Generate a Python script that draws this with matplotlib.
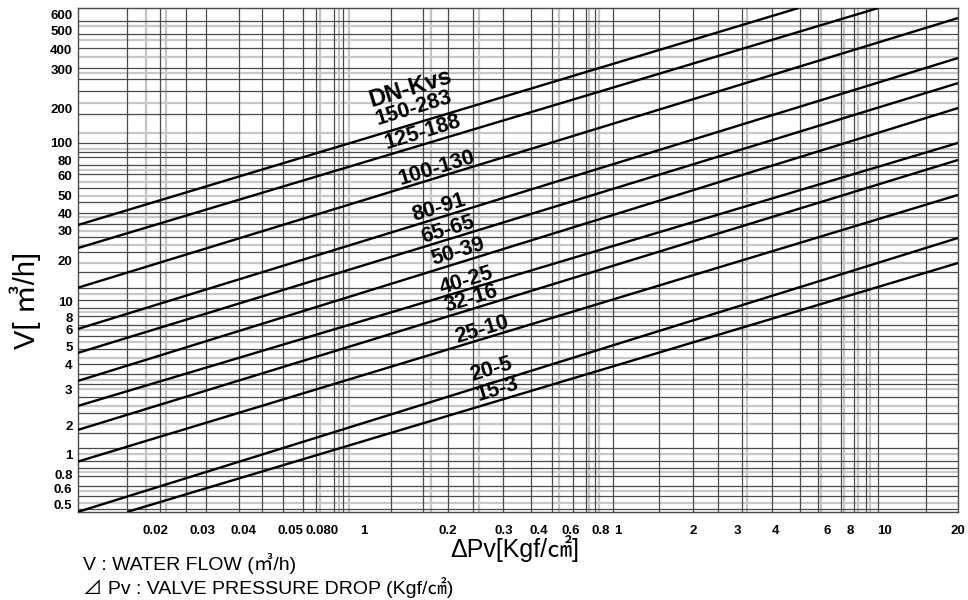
import numpy as np
import matplotlib
matplotlib.use("Agg")
import matplotlib.pyplot as plt

plt.rcParams['font.family'] = ['Liberation Sans', 'Noto Sans CJK KR', 'DejaVu Sans']

# ---- data ----
# valve lines: DN-Kvs label, start point and end point (dP, V)
line_names = ['150-283', '125-188', '100-130', '80-91', '65-65', '50-39',
              '40-25', '32-16', '25-10', '20-5', '15-3']
p_start = [0.0095, 0.0095, 0.0095, 0.0095, 0.0095, 0.0095,
           0.0095, 0.0095, 0.0095, 0.0095, 0.0146]
v_start = [29.5, 21.2, 12.0, 6.64, 4.71, 3.15, 2.20, 1.56, 0.99, 0.481, 0.481]
p_end = [5.0, 10.0, 20, 20, 20, 20, 20, 20, 20, 20, 20]
v_end = [664, 664, 575, 324, 226, 158, 95.8, 75, 45.4, 24.5, 17.1]

# where each label sits (dP, V)
label_p = [0.176, 0.19, 0.216, 0.22, 0.236, 0.258, 0.279, 0.291, 0.318, 0.346, 0.365]
label_v = [158, 111, 67, 37.7, 27.5, 20.0, 13.2, 10.2, 6.55, 3.69, 2.77]
head_p, head_v = 0.171, 211

# tick labels as printed, and where they sit on the chart
x_tick_at = [0.0186, 0.028, 0.040, 0.060, 0.0796, 0.1137, 0.236, 0.384, 0.521,
             0.688, 0.893, 1.04, 2.0, 2.94, 4.09, 6.43, 7.85, 10.6, 19.9]
x_tick_txt = ['0.02', '0.03', '0.04', '0.05', '0.080', '1', '0.2', '0.3', '0.4',
              '0.6', '0.8', '1', '2', '3', '4', '6', '8', '10', '20']
y_tick_at = [601, 478, 364, 273, 158, 95.8, 74, 59.7, 44.8, 34.6, 27.1, 17.6,
             9.79, 7.78, 6.55, 5.13, 3.96, 2.77, 1.65, 1.1, 0.818, 0.669, 0.532]
y_tick_txt = ['600', '500', '400', '300', '200', '100', '80', '60', '50', '40', '30',
              '20', '10', '8', '6', '5', '4', '3', '2', '1', '0.8', '0.6', '0.5']

# grid lines of the chart paper
v_grid = [0.0146, 0.0193, 0.0242, 0.0288, 0.0384, 0.0472, 0.0567, 0.0675, 0.075,
          0.0877, 0.0948, 0.144, 0.19, 0.238, 0.296, 0.381, 0.486, 0.588, 0.706,
          0.784, 0.855, 1.0, 1.49, 1.99, 2.49, 3.07, 3.98, 5.08, 5.94, 7.2, 8.13,
          9.02, 10.0, 15.1]
v_grid_gray = [0.0172, 0.0205, 0.078, 0.092, 0.1, 0.205, 0.31, 0.62, 0.81, 0.88,
               3.2, 6.1, 7.4, 8.4, 9.3]
h_grid = [0.5, 0.6, 0.7, 0.8, 0.9, 1, 1.2, 1.5, 2, 2.5, 3, 3.5, 4, 5, 6, 7, 8, 9,
          10, 12, 15, 20, 25, 30, 35, 41, 50, 61, 70, 78, 84, 96, 145, 202, 240,
          281, 374, 457, 551]
h_grid_gray = [0.55, 0.65, 0.85, 1.1, 1.7, 2.2, 2.8, 3.2, 4.4, 5.5, 6.5, 8.5, 11,
               17, 22, 27, 33, 45, 55, 65, 88, 110, 170, 260, 330, 420, 510]

# ---- figure ----
fig = plt.figure(figsize=(9.68, 6), dpi=100)
ax = fig.add_axes([78 / 968, 1 - 512 / 600, 880 / 968, 504 / 600])
ax.set_xscale('log')
ax.set_yscale('log')
ax.set_xlim(0.0095, 20)
ax.set_ylim(0.48, 664)

ax.vlines(v_grid_gray, 0.48, 664, color='#c4c4c4', lw=1.6, zorder=1)
ax.hlines(h_grid_gray, 0.0095, 20, color='#c8c8c8', lw=1.6, zorder=1)
ax.vlines(v_grid, 0.48, 664, color='#4a4a4a', lw=0.9, zorder=2)
ax.hlines(h_grid, 0.0095, 20, color='#4a4a4a', lw=0.9, zorder=2)

for i in range(len(line_names)):
    ax.plot([p_start[i], p_end[i]], [v_start[i], v_end[i]], color='black',
            lw=1.7, zorder=3, solid_capstyle='butt')
    ax.text(label_p[i], label_v[i], line_names[i], fontsize=15.5, fontweight='bold',
            rotation=17, ha='center', va='center', zorder=4)
ax.text(head_p, head_v, 'DN-Kvs', fontsize=17, fontweight='bold',
        rotation=17, ha='center', va='center', zorder=4)

ax.set_xticks(x_tick_at)
ax.set_xticklabels(x_tick_txt, fontsize=9.5, fontweight='bold')
ax.set_yticks(y_tick_at)
ax.set_yticklabels(y_tick_txt, fontsize=9.5, fontweight='bold')
ax.xaxis.set_minor_locator(matplotlib.ticker.NullLocator())
ax.yaxis.set_minor_locator(matplotlib.ticker.NullLocator())
ax.tick_params(axis='both', length=0)
ax.tick_params(axis='x', pad=9)
ax.tick_params(axis='y', pad=4)
for s in ax.spines.values():
    s.set_color('#4a4a4a')
    s.set_linewidth(1.0)

fig.text(25 / 968, 1 - 300 / 600, 'V[ ㎥/h]', fontsize=21, rotation=90,
         ha='center', va='center')
fig.text(515 / 968, 1 - 549 / 600, 'ΔPv[Kgf/㎠]', fontsize=18,
         ha='center', va='center')
fig.text(83 / 968, 1 - 563 / 600, 'V : WATER FLOW (㎥/h)', fontsize=14,
         ha='left', va='center')
fig.text(83 / 968, 1 - 588 / 600, '⊿ Pv : VALVE PRESSURE DROP (Kgf/㎠)', fontsize=14,
         ha='left', va='center')

fig.savefig('out.png', dpi=100)
